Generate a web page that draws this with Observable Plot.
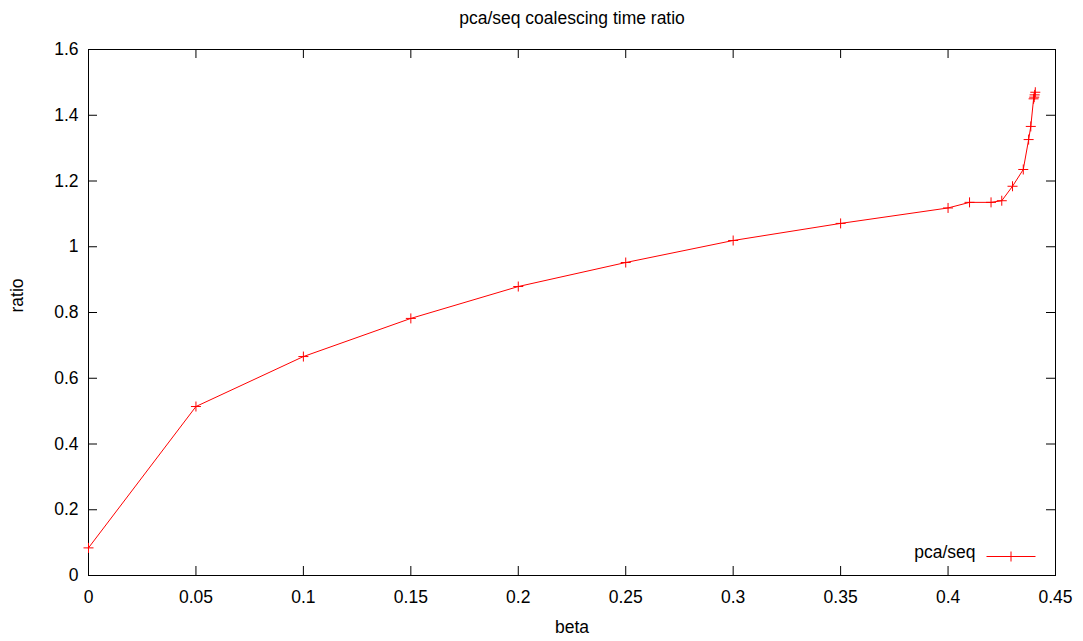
<!DOCTYPE html>
<html>
<head>
<meta charset="utf-8">
<script src="https://cdn.jsdelivr.net/npm/d3@7"></script>
<script src="https://cdn.jsdelivr.net/npm/@observablehq/plot@0.6"></script>
<style>
  html, body { margin: 0; padding: 0; background: #fff; }
  #chart { width: 1083px; height: 641px; }
</style>
</head>
<body>
<div id="chart"></div>
<script>
// ---- data ----
const title = "pca/seq coalescing time ratio";
const xLabel = "beta";
const yLabel = "ratio";
const seriesName = "pca/seq";
const beta  = [0, 0.05, 0.1, 0.15, 0.2, 0.25, 0.3, 0.35, 0.4, 0.41, 0.42, 0.425, 0.43, 0.435, 0.4375, 0.4385, 0.4398, 0.4401, 0.4403, 0.4406];
const ratio = [0.084, 0.514, 0.666, 0.782, 0.879, 0.952, 1.019, 1.071, 1.118, 1.135, 1.135, 1.140, 1.184, 1.235, 1.326, 1.366, 1.450, 1.455, 1.462, 1.470];
const xTicks = [0, 0.05, 0.1, 0.15, 0.2, 0.25, 0.3, 0.35, 0.4, 0.45];
const yTicks = [0, 0.2, 0.4, 0.6, 0.8, 1, 1.2, 1.4, 1.6];

const data = beta.map((b, i) => ({beta: b, ratio: ratio[i]}));

const W = 1083, H = 641;
const mL = 88, mR = 28, mT = 49, mB = 66;
const fw = W - mL - mR, fh = H - mT - mB;
const tickLen = 9;
const red = "#ff0000";

// thin gnuplot-style "+" symbol
const plusSymbol = {
  draw(ctx, size) {
    const r = Math.sqrt(size / Math.PI);
    ctx.moveTo(-r, 0); ctx.lineTo(r, 0);
    ctx.moveTo(0, -r); ctx.lineTo(0, r);
  }
};
// legend sample: line with a plus in the middle
const legendSymbol = {
  draw(ctx, size) {
    const r = Math.sqrt(size / Math.PI);
    ctx.moveTo(-24.5, 0); ctx.lineTo(24.5, 0);
    ctx.moveTo(0, -r); ctx.lineTo(0, r);
  }
};

const fmt = d => String(+d.toFixed(2));

const chart = Plot.plot({
  width: W,
  height: H,
  marginLeft: mL, marginRight: mR, marginTop: mT, marginBottom: mB,
  style: {fontFamily: "'Liberation Sans', Arial, Helvetica, sans-serif", fontSize: "17.5px", color: "#000", background: "#fff"},
  x: {domain: [0, 0.45]},
  y: {domain: [0, 1.6]},
  marks: [
    // inward ticks on all four sides (mirrored)
    Plot.tickX(xTicks, {x: d => d, insetTop: fh - tickLen, stroke: "#000"}),
    Plot.tickX(xTicks, {x: d => d, insetBottom: fh - tickLen, stroke: "#000"}),
    Plot.tickY(yTicks, {y: d => d, insetRight: fw - tickLen, stroke: "#000"}),
    Plot.tickY(yTicks, {y: d => d, insetLeft: fw - tickLen, stroke: "#000"}),
    Plot.axisX({ticks: xTicks, tickSize: 0, tickPadding: 15, tickFormat: fmt, label: null}),
    Plot.axisY({ticks: yTicks, tickSize: 0, tickPadding: 10, tickFormat: fmt, label: null}),
    Plot.frame({stroke: "#000"}),
    // data
    Plot.line(data, {x: "beta", y: "ratio", stroke: red, strokeWidth: 1}),
    Plot.dot(data, {x: "beta", y: "ratio", symbol: plusSymbol, r: 5, stroke: red, strokeWidth: 1, fill: "none"}),
    // titles
    Plot.text([title], {frameAnchor: "top", dy: -38, text: d => d}),
    Plot.text([xLabel], {frameAnchor: "bottom", dy: 57, text: d => d}),
    Plot.text([yLabel], {frameAnchor: "left", dx: -71, rotate: -90, text: d => d}),
    // legend
    Plot.text([seriesName], {frameAnchor: "bottom-right", dx: -80, dy: -18, textAnchor: "end", text: d => d}),
    Plot.dot([seriesName], {frameAnchor: "bottom-right", dx: -44.5, dy: -19, symbol: legendSymbol, r: 5, stroke: red, strokeWidth: 1, fill: "none"})
  ]
});
document.getElementById("chart").append(chart);
</script>
</body>
</html>
